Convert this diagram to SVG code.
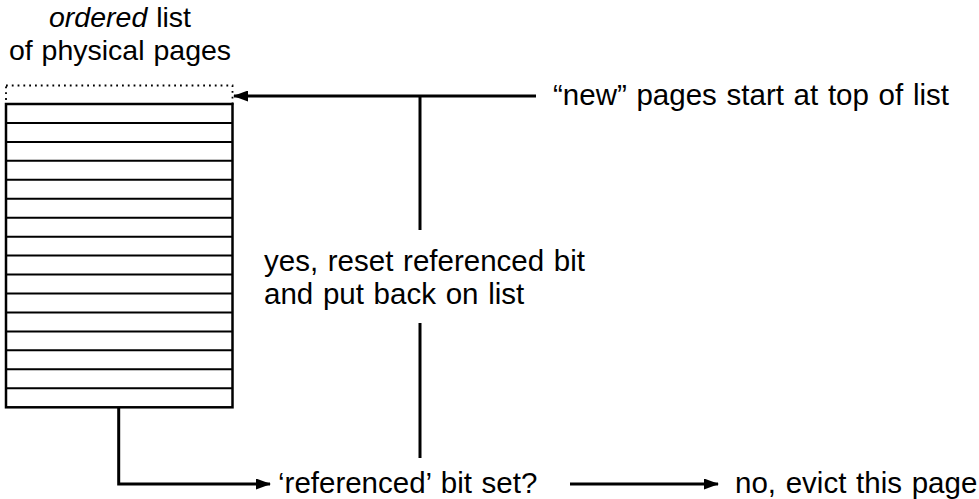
<svg xmlns="http://www.w3.org/2000/svg" width="979" height="499" viewBox="0 0 979 499">
<style>
  text { font-family: "Liberation Sans", "DejaVu Sans", sans-serif; font-size: 29.5px; word-spacing: 1.5px; fill: #000; }
  .title { font-size: 28.5px; word-spacing: 1px; }
  .conn { stroke: #000; stroke-width: 3; fill: none; }
  .row { stroke: #000; stroke-width: 2; fill: none; }
  .box { stroke: #000; stroke-width: 2.5; fill: #fff; }
  .dotted { stroke: #000; stroke-width: 1.8; fill: none; stroke-dasharray: 1.8 4; }
</style>
<defs>
  <marker id="arr" viewBox="0 0 15 11" refX="14" refY="5.5" markerWidth="15" markerHeight="11" markerUnits="userSpaceOnUse" orient="auto">
    <path d="M0,0 L15,5.5 L0,11 Z" fill="#000"/>
  </marker>
</defs>
<rect width="979" height="499" fill="#fff"/>

<g id="list-title">
  <text class="title" x="120" y="27" text-anchor="middle"><tspan font-style="italic">ordered</tspan> list</text>
  <text class="title" x="120" y="60" text-anchor="middle">of physical pages</text>
</g>

<g id="page-list">
  <rect class="dotted" x="6" y="85.5" width="226.5" height="18.5"/>
  <rect class="box" x="6" y="104" width="226.5" height="303.3"/>
  <path class="row" d="M6,122.95H232.5 M6,141.9H232.5 M6,160.85H232.5 M6,179.8H232.5 M6,198.75H232.5 M6,217.7H232.5 M6,236.65H232.5 M6,255.6H232.5 M6,274.55H232.5 M6,293.5H232.5 M6,312.45H232.5 M6,331.4H232.5 M6,350.35H232.5 M6,369.3H232.5 M6,388.25H232.5"/>
</g>

<g id="new-pages">
  <text x="553" y="105">“new” pages start at top of list</text>
</g>

<g id="reset-label">
  <text x="264" y="271">yes, reset referenced bit</text>
  <text x="264" y="304">and put back on list</text>
</g>

<g id="referenced-check">
  <text x="278" y="493">‘referenced’ bit set?</text>
</g>

<g id="evict">
  <text x="735" y="493">no, evict this page</text>
</g>

<g id="connectors">
  <path class="conn" d="M536,96 H234" marker-end="url(#arr)"/>
  <path class="conn" d="M420,96 V230"/>
  <path class="conn" d="M420,323 V458"/>
  <path class="conn" d="M118.7,407 V484 H270" marker-end="url(#arr)"/>
  <path class="conn" d="M570,484 H718" marker-end="url(#arr)"/>
</g>
</svg>
